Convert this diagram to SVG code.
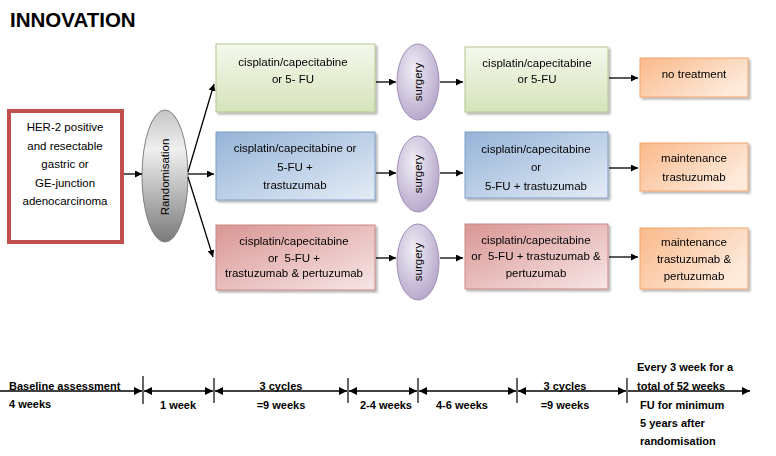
<svg xmlns="http://www.w3.org/2000/svg" width="776" height="456" viewBox="0 0 776 456">
<style>
text{font-family:"Liberation Sans",Arial,sans-serif;fill:#000}
.t{font-size:11.5px;text-anchor:middle;white-space:pre}
.b{font-size:11px;font-weight:bold;white-space:pre}
.bc{font-size:11px;font-weight:bold;text-anchor:middle}
.ln{stroke:#000;stroke-width:1.3;fill:none}
.tl{stroke:#000;stroke-width:1.5;fill:none}
.tk{stroke:#000;stroke-width:1.2}
</style>
<defs>
<marker id="ah" viewBox="0 0 10 10" refX="10" refY="5" markerWidth="7" markerHeight="7" markerUnits="userSpaceOnUse" orient="auto-start-reverse"><path d="M0,0 L10,5 L0,10 z" fill="#000"/></marker>
<marker id="th" viewBox="0 0 10 10" refX="10" refY="5" markerWidth="8" markerHeight="8" markerUnits="userSpaceOnUse" orient="auto-start-reverse"><path d="M0,0 L10,5 L0,10 z" fill="#000"/></marker>
<linearGradient id="gGreen" x1="0" y1="0" x2="0" y2="1"><stop offset="0" stop-color="#f4f8ec"/><stop offset="1" stop-color="#d6e3bb"/></linearGradient>
<linearGradient id="gBlue" x1="0" y1="0" x2="1" y2="1"><stop offset="0" stop-color="#95b3d7"/><stop offset="1" stop-color="#e4ecf6"/></linearGradient>
<linearGradient id="gRed" x1="0" y1="0" x2="1" y2="1"><stop offset="0" stop-color="#d99694"/><stop offset="1" stop-color="#f7e6e6"/></linearGradient>
<linearGradient id="gOrange" x1="0" y1="0" x2="1" y2="0.6"><stop offset="0" stop-color="#fab98a"/><stop offset="1" stop-color="#fdeadb"/></linearGradient>
<radialGradient id="gPurple" cx="0.4" cy="0.35" r="0.7"><stop offset="0" stop-color="#f1eef6"/><stop offset="1" stop-color="#b4a5c9"/></radialGradient>
<linearGradient id="gGray" x1="0" y1="0" x2="0" y2="1"><stop offset="0" stop-color="#c4c4c4"/><stop offset="0.3" stop-color="#f0f0f0"/><stop offset="1" stop-color="#7a7a7a"/></linearGradient>
<filter id="sh" x="-10%" y="-10%" width="130%" height="130%"><feDropShadow dx="2" dy="2" stdDeviation="1.2" flood-color="#000" flood-opacity="0.3"/></filter>
</defs>
<rect width="776" height="456" fill="#fff"/>
<text x="10" y="27" style="font-size:20.5px;font-weight:bold">INNOVATION</text>

<g id="her2">
<rect x="9" y="111" width="113" height="131" fill="#fff" stroke="#c0504d" stroke-width="4"/>
<text class="t" x="65" y="131">HER-2 positive</text>
<text class="t" x="65" y="150">and resectable</text>
<text class="t" x="65" y="168">gastric or</text>
<text class="t" x="65" y="187">GE-junction</text>
<text class="t" x="65" y="205">adenocarcinoma</text>
</g>
<g id="randomisation">
<ellipse cx="165" cy="176" rx="23" ry="66" fill="url(#gGray)" stroke="#7f7f7f" stroke-width="1"/>
<text class="t" transform="translate(169,177) rotate(-90)">Randomisation</text>
</g>

<g id="a1" filter="url(#sh)">
<rect x="216" y="44" width="159" height="68" fill="url(#gGreen)" stroke="#b3c891" stroke-width="1"/>
<text class="t" x="293" y="66">cisplatin/capecitabine</text>
<text class="t" x="293" y="83">or 5- FU</text>
</g>
<g id="s1">
<ellipse cx="418" cy="82" rx="21" ry="38" fill="url(#gPurple)" stroke="#9d8fb5" stroke-width="1"/>
<text class="t" transform="translate(422,82) rotate(-90)">surgery</text>
</g>
<g id="a2" filter="url(#sh)">
<rect x="465" y="47" width="143" height="65" fill="url(#gGreen)" stroke="#b3c891" stroke-width="1"/>
<text class="t" x="537" y="67">cisplatin/capecitabine</text>
<text class="t" x="537" y="83">or 5-FU</text>
</g>
<g id="a3" filter="url(#sh)">
<rect x="640" y="58" width="108" height="39" fill="url(#gOrange)" stroke="#f2a56c" stroke-width="1"/>
<text class="t" x="694" y="78">no treatment</text>
</g>

<g id="b1" filter="url(#sh)">
<rect x="216" y="132" width="159" height="68" fill="url(#gBlue)" stroke="#7f9ec6" stroke-width="1"/>
<text class="t" x="295" y="152">cisplatin/capecitabine or</text>
<text class="t" x="295" y="171">5-FU +</text>
<text class="t" x="295" y="189">trastuzumab</text>
</g>
<g id="s2">
<ellipse cx="418" cy="174" rx="21" ry="38" fill="url(#gPurple)" stroke="#9d8fb5" stroke-width="1"/>
<text class="t" transform="translate(422,174) rotate(-90)">surgery</text>
</g>
<g id="b2" filter="url(#sh)">
<rect x="465" y="132" width="143" height="66" fill="url(#gBlue)" stroke="#7f9ec6" stroke-width="1"/>
<text class="t" x="536" y="153">cisplatin/capecitabine</text>
<text class="t" x="536" y="171">or</text>
<text class="t" x="536" y="190">5-FU + trastuzumab</text>
</g>
<g id="b3" filter="url(#sh)">
<rect x="640" y="143" width="108" height="48" fill="url(#gOrange)" stroke="#f2a56c" stroke-width="1"/>
<text class="t" x="694" y="162">maintenance</text>
<text class="t" x="694" y="181">trastuzumab</text>
</g>

<g id="c1" filter="url(#sh)">
<rect x="216" y="225" width="159" height="65" fill="url(#gRed)" stroke="#c98886" stroke-width="1"/>
<text class="t" x="294" y="245">cisplatin/capecitabine</text>
<text class="t" x="294" y="262">or  5-FU +</text>
<text class="t" x="294" y="277">trastuzumab &amp; pertuzumab</text>
</g>
<g id="s3">
<ellipse cx="418" cy="262" rx="21" ry="38" fill="url(#gPurple)" stroke="#9d8fb5" stroke-width="1"/>
<text class="t" transform="translate(422,262) rotate(-90)">surgery</text>
</g>
<g id="c2" filter="url(#sh)">
<rect x="465" y="224" width="143" height="65" fill="url(#gRed)" stroke="#c98886" stroke-width="1"/>
<text class="t" x="536" y="244">cisplatin/capecitabine</text>
<text class="t" x="536" y="260">or  5-FU + trastuzumab &amp;</text>
<text class="t" x="536" y="277">pertuzumab</text>
</g>
<g id="c3" filter="url(#sh)">
<rect x="640" y="228" width="108" height="61" fill="url(#gOrange)" stroke="#f2a56c" stroke-width="1"/>
<text class="t" x="694" y="246">maintenance</text>
<text class="t" x="694" y="263">trastuzumab &amp;</text>
<text class="t" x="694" y="280">pertuzumab</text>
</g>

<g id="connectors">
<line class="ln" x1="124" y1="174" x2="142" y2="174" marker-end="url(#ah)"/>
<line class="ln" x1="188" y1="172" x2="214" y2="84" marker-end="url(#ah)"/>
<line class="ln" x1="188" y1="174" x2="214" y2="174" marker-end="url(#ah)"/>
<line class="ln" x1="188" y1="177" x2="213" y2="257" marker-end="url(#ah)"/>
<line class="ln" x1="376" y1="82" x2="396" y2="82" marker-end="url(#ah)"/>
<line class="ln" x1="440" y1="82" x2="463" y2="82" marker-end="url(#ah)"/>
<line class="ln" x1="609" y1="78" x2="638" y2="78" marker-end="url(#ah)"/>
<line class="ln" x1="376" y1="173" x2="396" y2="173" marker-end="url(#ah)"/>
<line class="ln" x1="440" y1="173" x2="463" y2="173" marker-end="url(#ah)"/>
<line class="ln" x1="609" y1="168" x2="638" y2="168" marker-end="url(#ah)"/>
<line class="ln" x1="376" y1="258" x2="396" y2="258" marker-end="url(#ah)"/>
<line class="ln" x1="440" y1="258" x2="463" y2="258" marker-end="url(#ah)"/>
<line class="ln" x1="609" y1="257" x2="638" y2="257" marker-end="url(#ah)"/>
</g>

<g id="timeline">
<line class="tl" x1="0" y1="391" x2="142" y2="391" marker-end="url(#th)"/>
<line class="tl" x1="144" y1="391" x2="213" y2="391" marker-start="url(#th)" marker-end="url(#th)"/>
<line class="tl" x1="215" y1="391" x2="347" y2="391" marker-start="url(#th)" marker-end="url(#th)"/>
<line class="tl" x1="349" y1="391" x2="417" y2="391" marker-start="url(#th)" marker-end="url(#th)"/>
<line class="tl" x1="419" y1="391" x2="516" y2="391" marker-start="url(#th)" marker-end="url(#th)"/>
<line class="tl" x1="518" y1="391" x2="626" y2="391" marker-start="url(#th)" marker-end="url(#th)"/>
<line class="tl" x1="628" y1="391" x2="750" y2="391" marker-end="url(#th)"/>
<line class="tk" x1="143" y1="376" x2="143" y2="404"/>
<line class="tk" x1="214" y1="378" x2="214" y2="403"/>
<line class="tk" x1="348" y1="378" x2="348" y2="403"/>
<line class="tk" x1="418" y1="378" x2="418" y2="403"/>
<line class="tk" x1="517" y1="378" x2="517" y2="403"/>
<line class="tk" x1="627" y1="378" x2="627" y2="403"/>
<text class="b" x="9" y="390">Baseline assessment</text>
<text class="b" x="9" y="408">4 weeks</text>
<text class="bc" x="178" y="409">1 week</text>
<text class="bc" x="281" y="390">3 cycles</text>
<text class="bc" x="281" y="409">=9 weeks</text>
<text class="bc" x="386" y="409">2-4 weeks</text>
<text class="bc" x="462" y="409">4-6 weeks</text>
<text class="bc" x="565" y="390">3 cycles</text>
<text class="bc" x="565" y="409">=9 weeks</text>
<text class="b" x="637" y="371">Every 3 week for a</text>
<text class="b" x="637" y="390">total of 52 weeks</text>
<text class="b" x="640" y="409">FU for minimum</text>
<text class="b" x="640" y="427">5 years after</text>
<text class="b" x="640" y="445">randomisation</text>
</g>
</svg>
